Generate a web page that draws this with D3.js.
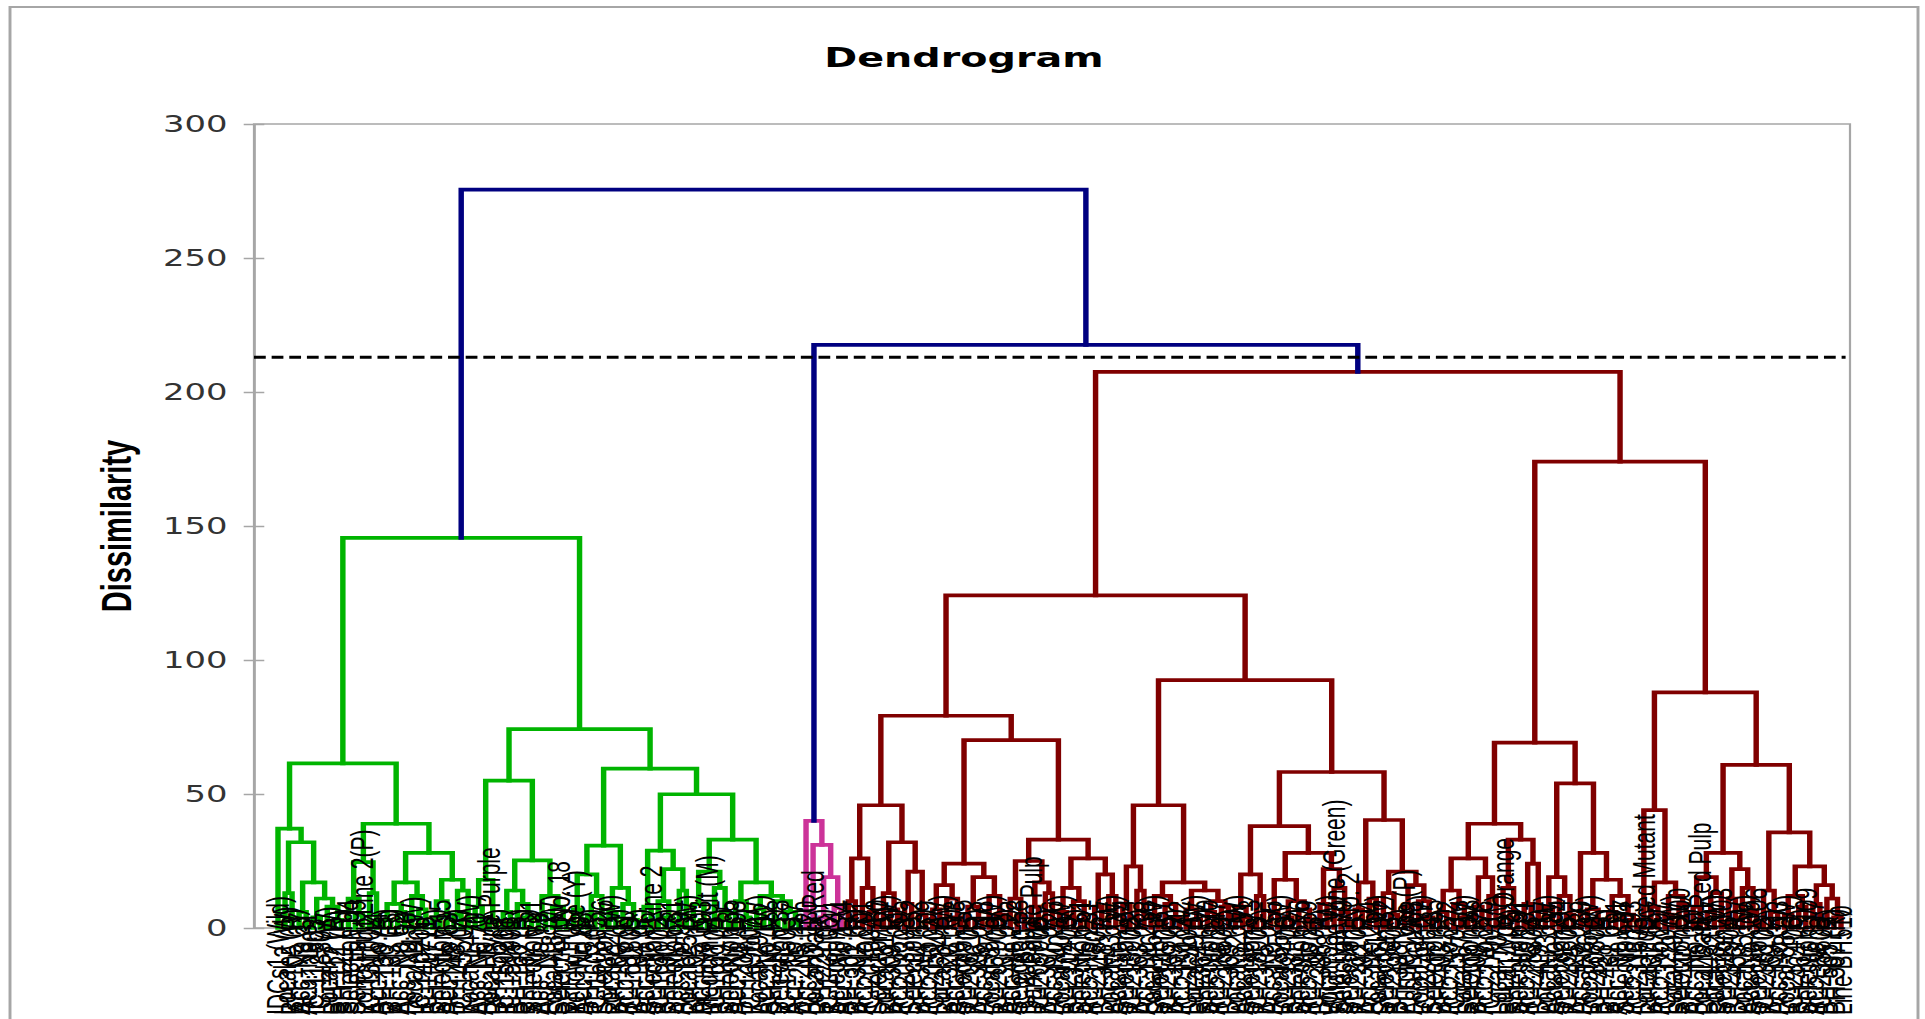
<!DOCTYPE html>
<html>
<head>
<meta charset="utf-8">
<script src="https://cdn.jsdelivr.net/npm/d3@7"></script>
<style>
  html, body { margin: 0; padding: 0; background: #fff; overflow: hidden; }
</style>
</head>
<body>
<svg id="chart"></svg>
<script>
// ---- data -------------------------------------------------------------
// Dissimilarity axis
const yTicks = [0, 50, 100, 150, 200, 250, 300];
const cutLevel = 213;                 // truncation level (dashed line)
const topHeights = [275.5, 217.6];    // root merge, merge of the two right groups

// Each merge is [height, left, right]; a leaf is its accession name.
// -- first class (green)
const greenA = [37.1, "IDCs1 (Wild)", [32, [13, "Local-2 (W)", "BH-105 (R)"], [17, [6, "Acc. No.27", "Acc. No.31"], [11, [4, "IC-112803", "IC-118307"], [8, "Local-7 (W)", [3, "BH-112 (R)", "BH-121 (R)"]]]]]];
const greenB = [38.9, [24.6, [11, "Selection 04", [5, "Selection 09", "Long Fruit Line 2(P)"]], [13, "IC-131002", "Acc. No.44"]], [28, [17, [9, [3, "BH-130 (R)", "BH-133 (R)"], [6, "Acc. No.52", "Acc. No.58"]], [12, "Local-11 (W)", [7, "IC-140206", "IC-140711"]]], [18, [10, [4, "BH-141 (R)", "Selection 15"], "Acc. No.63"], [14, [5, "BH-148 (R)", "IC-145504"], "Local-14 (W)"]]]];
const greenC = [55, [18, [8, "Acc. No.70", "Acc. No.71"], [3, "Local Type Purple", "BH-156 (R)"]], [25.2, [14, [6, "IC-150208", "IC-151901"], [9, "BH-160 (R)", [4, "BH-162 (R)", "Selection 21"]]], [12, [5, "Acc. No.79", "Acc. No.82"], [8, "Local-18 (W)", [2, "Selection No. 18", "BH-171 (R)"]]]]];
const greenD = [59.5, [30.7, [20, [7, "Yellow Type (Y)", "Acc. No.88"], [12, [5, "BH-175 (R)", "IC-160305"], "Selection 26"]], [15, [6, "Local-22 (W)", "BH-180 (R)"], [9, "Acc. No.91", [3, "IC-161809", "BH-184 (R)"]]]], [49.9, [28.9, [8, "Acc. No.96", "Selection Line 2"], [22, [10, "IC-164002", [4, "BH-190 (R)", "Selection 31"]], [14, "Acc. No.99", "Local-25 (W)"]]], [33, [21, [9, "BH-195 (R)", [3, "Acc. No.103", "Medium Fruit (M)"]], [15, "IC-167104", [6, "BH-199 (R)", "Selection 35"]]], [17, [10, "Acc. No.108", [4, "BH-204 (R)", "IC-169007"]], [12, [7, "Local-29 (W)", "Acc. No.112"], [10, [3, "BH-210 (R)", "Selection 38"], [6, "IC-170503", [2, "Acc. No.117", "BH-215 (R)"]]]]]]]];
const greenCluster = [145.6, [61.4, greenA, greenB], [74.2, greenC, greenD]];

// -- second class (pink)
const pinkCluster = [40, "Acc. No.120", [31, "Local Dark Red", [19, [4, "BH-221 (R)", "IC-173006"], [7.5, "Selection 41", "Acc. No.124"]]]];

// -- third class (dark red)
const redA = [45.8, [26, [10, "BH-301 (R)", "BH-302 (R)"], [15, "Acc. No.201", [6, "IC-201004", "Selection 50"]]], [32, [13, "Local-31 (W)", [7, "BH-309 (R)", "Acc. No.205"]], [21, [9, "IC-203308", "Selection 52"], [5, "BH-314 (R)", "Acc. No.209"]]]];
const redB = [70.1, [24, [16, [7, "IC-205102", "Local-34 (W)"], [11, "BH-320 (R)", [4, "Acc. No.213", "Selection 55"]]], [19, [8, "IC-206705", [3, "BH-326 (R)", "Acc. No.218"]], [12, "Local-37 (W)", [5, "IC-207909", "BH-331 (R)"]]]], [33, [25, [11, "Acc. No.222", [5, "Selection 58", "IC-208501"]], [17, [8, "Dark Purple Pulp", "IC-209006"], [13, "BH-337 (R)", "Acc. No.226"]]], [26, [15, [6, "Local-40 (W)", "IC-210403"], [10, "BH-342 (R)", [3, "Selection 61", "Acc. No.231"]]], [20, [8, "IC-211807", "BH-348 (R)"], [12, "Local-43 (W)", "Acc. No.235"]]]]];
const redC = [45.8, [23, [9, "Selection 64", "IC-213002"], [14, "BH-353 (R)", "Acc. No.238"]], [17, [12, [5, "Local-46 (W)", "Selection 67"], [9, "IC-214508", [4, "BH-359 (R)", "Acc. No.242"]]], [14, [7, "IC-215104", [3, "Local-49 (W)", "BH-364 (R)"]], [10, [6, "Selection 70", "Acc. No.247"], [8, "IC-216609", "BH-369 (R)"]]]]];
const redD = [58.2, [38, [20, [8, "Local-52 (W)", [4, "Acc. No.251", "Selection 73"]], [12, "IC-218003", "BH-375 (R)"]], [28, [18, [6, "Acc. No.255", "Local-55 (W)"], [10, [4, "IC-219406", "BH-381 (R)"], [7, "Selection 76", [3, "Acc. No.259", "IC-220701"]]]], [22, [9, "BH-386 (R)", "Local-58 (W)"], [15, "Wild Type Line (Green)", [6, "Selection 79", "Selection No. 2"]]]]], [40.3, [17, [7, "IC-222105", "BH-392 (R)"], [11, "Acc. No.264", "Local-61 (W)"]], [21, [13, "Selection 82", [5, "IC-223608", "BH-398 (R)"]], [16, [8, "Purple Type (P)", "Acc. No.268"], [10, "Local-64 (W)", [4, "IC-224902", "Selection 85"]]]]]];
const redE = [69.2, [38.9, [26, [14, [6, "BH-403 (R)", "Acc. No.272"], [9, "IC-225703", [4, "Local-67 (W)", "Selection 88"]]], [19, [8, "BH-409 (R)", "Acc. No.276"], [12, "IC-227008", "Local-70 (W)"]]], [33, [15, "Local Type Orange", [6, "BH-414 (R)", "Selection 91"]], [24, [9, "Acc. No.281", "IC-228304"], "BH-419 (R)"]]], [54, [19, [8, "Local-73 (W)", "Acc. No.285"], [12, "Selection 94", [5, "IC-229606", "BH-425 (R)"]]], [28, "Acc. No.289", [18, [7, "Local-76 (W)", [3, "IC-230802", "BH-428 (R)"]], [12, [6, "BH-431 (R)", "Acc. No.291"], [5, "Selection 97", [3, "Acc. No.293", "IC-231505"]]]]]]];
const redF = [87.9, [44, "Local Induced Mutant", [17, [8, "BH-437 (R)", "Acc. No.297"], [12, [5, "IC-232207", "Local-79 (W)"], [9, "Selection 100", "BH-442 (R)"]]]], [60.9, [28, [19, [8, "Acc. No.301", "Local Dark Red Pulp"], [13, [6, "BH-448 (R)", "Local-82 (W)"], "Selection 103"]], [22, [11, "IC-234904", "BH-453 (R)"], [15, "Local-85 (W)", [6, "Acc. No.309", "Selection 106"]]]], [35.7, [14, "IC-236102", [6, "BH-459 (R)", "Acc. No.313"]], [23, [12, [5, "Local-88 (W)", "IC-237406"], [8, "BH-464 (R)", "Selection 109"]], [16, [9, "Acc. No.317", "IC-238608"], [11, "BH-505 (R)", [4, "BH-507 (R)", "Line BH510"]]]]]]];
const redCluster = [207.5, [124.1, [79.2, redA, redB], [92.5, redC, redD]], [174, redE, redF]];

const clusterColors = ["#00b400", "#cc3399", "#800000"];
const trunkColor = "#000080";

// ---- layout -----------------------------------------------------------
// The drawing is laid out in a horizontally condensed space and widened
// to the page by the viewBox, so text and strokes widen with it.
const W = 1925, H = 1019, SX = 1.47;
const fx = px => px / SX;

const svg = d3.select("#chart")
  .attr("width", W).attr("height", H)
  .attr("viewBox", `0 0 ${W / SX} ${H}`)
  .attr("preserveAspectRatio", "none");

const plot = { left: fx(254), right: fx(1850), top: 124, bottom: 928 };

// chart frame
svg.append("rect")
  .attr("x", fx(10)).attr("y", 7)
  .attr("width", fx(1918) - fx(10)).attr("height", 1100)
  .attr("fill", "#fff").attr("stroke", "#a6a6a6").attr("stroke-width", 2);

// plot-area border
svg.append("rect")
  .attr("x", plot.left).attr("y", plot.top)
  .attr("width", plot.right - plot.left).attr("height", plot.bottom - plot.top)
  .attr("fill", "none").attr("stroke", "#a6a6a6").attr("stroke-width", 1.5);

const y = d3.scaleLinear().domain([0, 300]).range([plot.bottom, plot.top]);

// hierarchy
const tree = [topHeights[0], greenCluster, [topHeights[1], pinkCluster, redCluster]];
const root = d3.hierarchy(tree, d => Array.isArray(d) ? d.slice(1) : null);
root.each(n => { n.h = Array.isArray(n.data) ? n.data[0] : 0; });
const leaves = root.leaves();

const x = d3.scalePoint()
  .domain(leaves.map(d => d.data))
  .range([fx(278), fx(1841)]);

root.eachAfter(n => {
  n.x = n.children ? (n.children[0].x + n.children[1].x) / 2 : x(n.data);
});

root.each(n => { n.color = trunkColor; });
[root.children[0], root.children[1].children[0], root.children[1].children[1]]
  .forEach((c, i) => c.each(n => { n.color = clusterColors[i]; }));

// axis
const axis = d3.axisLeft(y).tickValues(yTicks)
  .tickSizeInner(7).tickSizeOuter(0).tickPadding(11);
const gA = svg.append("g")
  .attr("transform", `translate(${plot.left},0)`)
  .call(axis);
gA.select(".domain").attr("stroke", "#a6a6a6").attr("stroke-width", 1.5);
gA.selectAll(".tick line").attr("x1", 7).attr("stroke", "#a6a6a6").attr("stroke-width", 1.5);
gA.selectAll(".tick text")
  .attr("font-family", "'DejaVu Sans', Verdana, sans-serif")
  .attr("font-size", 23).attr("fill", "#333");

// links
const internal = root.descendants().filter(n => n.children);
const linkPath = d => {
  const [a, b] = d.children;
  return `M${a.x},${y(a.h)}V${y(d.h)}H${b.x}V${y(b.h)}`;
};
const gLinks = svg.append("g").attr("fill", "none").attr("stroke-width", 3.7)
  .attr("stroke-linejoin", "miter").attr("stroke-linecap", "square");
gLinks.selectAll("path.cl")
  .data(internal.filter(n => n.color !== trunkColor))
  .join("path").attr("class", "cl")
  .attr("stroke", d => d.color).attr("d", linkPath);
gLinks.selectAll("path.tr")
  .data(internal.filter(n => n.color === trunkColor))
  .join("path").attr("class", "tr")
  .attr("stroke", d => d.color).attr("d", linkPath);

// truncation line
svg.append("line")
  .attr("x1", plot.left).attr("x2", plot.right - 3)
  .attr("y1", y(cutLevel)).attr("y2", y(cutLevel))
  .attr("stroke", "#000").attr("stroke-width", 3)
  .attr("stroke-dasharray", "8 4");

// leaf labels, read upward from just above the lower edge
svg.append("g")
  .attr("font-family", "'Liberation Sans', Arial, sans-serif")
  .attr("font-size", 21).attr("fill", "#000")
  .selectAll("text")
  .data(leaves)
  .join("text")
  .attr("transform", d => `translate(${d.x},1015) rotate(-90)`)
  .attr("dy", "0.35em")
  .attr("text-anchor", "start")
  .text(d => d.data);

// titles
svg.append("text")
  .attr("x", fx(964)).attr("y", 67)
  .attr("text-anchor", "middle")
  .attr("font-family", "'DejaVu Sans', Verdana, sans-serif")
  .attr("font-weight", "bold").attr("font-size", 27)
  .attr("fill", "#000")
  .text("Dendrogram");

svg.append("text")
  .attr("transform", `translate(${fx(116)},526) rotate(-90)`)
  .attr("text-anchor", "middle").attr("dy", "0.35em")
  .attr("font-family", "'Liberation Sans', Arial, sans-serif")
  .attr("font-weight", "bold").attr("font-size", 29)
  .attr("fill", "#000")
  .text("Dissimilarity");
</script>
</body>
</html>
